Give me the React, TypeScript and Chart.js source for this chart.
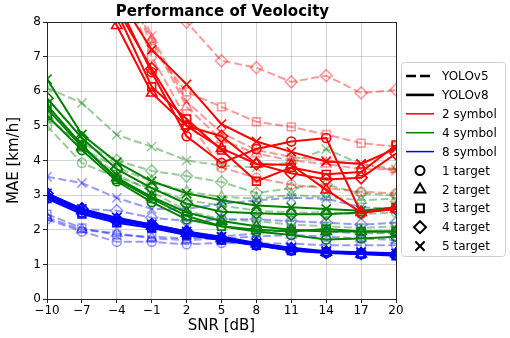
import React, { useEffect, useRef } from 'react';
import { Chart, registerables } from 'chart.js';
import { drawPoint } from 'chart.js/helpers';

Chart.register(...registerables);

const SNR = [-10, -7, -4, -1, 2, 5, 8, 11, 14, 17, 20];
const MODELS = ['YOLOv5', 'YOLOv8'];
const SYMBOLS = ['2 symbol', '4 symbol', '8 symbol'];
const TARGETS = ['1 target', '2 target', '3 target', '4 target', '5 target'];
const TITLE = 'Performance of Veolocity';
const X_LABEL = 'SNR [dB]';
const Y_LABEL = 'MAE [km/h]';

// 2 symbol, YOLOv8
const red_v8_t1 = [14, 11, 8.6, 6.55, 4.7, 3.93, 4.33, 4.55, 4.65, 2.48, 2.65];
const red_v8_t2 = [13, 10, 7.9, 5.95, 5.0, 4.35, 3.9, 3.87, 3.15, 2.5, 2.6];
const red_v8_t3 = [13, 10.5, 8.3, 6.13, 5.2, 4.3, 3.4, 3.8, 3.6, 3.67, 4.45];
const red_v8_t4 = [13.5, 10.5, 8.4, 6.65, 5.0, 4.7, 3.9, 3.63, 3.45, 3.5, 4.2];
const red_v8_t5 = [14, 11, 8.8, 7.2, 6.2, 5.05, 4.55, 4.25, 3.97, 3.9, 4.35];
// 2 symbol, YOLOv5
const red_v5_t1 = [15, 12, 9.5, 7.0, 5.2, 3.8, 3.5, 3.3, 3.2, 3.1, 3.05];
const red_v5_t2 = [15, 12, 9.5, 7.5, 5.55, 4.6, 4.2, 4.0, 3.9, 3.75, 3.75];
const red_v5_t3 = [16, 13, 10, 7.25, 5.98, 5.55, 5.12, 4.97, 4.75, 4.5, 4.4];
const red_v5_t4 = [20, 16, 12, 9.8, 8.0, 6.88, 6.68, 6.27, 6.45, 5.95, 6.04];
const red_v5_t5 = [16, 13, 10, 7.6, 5.7, 4.8, 4.3, 4.1, 4.0, 3.9, 3.7];
// 4 symbol, YOLOv8
const green_v8_t1 = [5.3, 4.3, 3.4, 2.8, 2.3, 2.1, 1.95, 1.85, 1.72, 1.75, 1.8];
const green_v8_t2 = [5.5, 4.4, 3.5, 2.95, 2.5, 2.25, 2.1, 2.0, 1.95, 1.95, 1.95];
const green_v8_t3 = [5.6, 4.45, 3.45, 2.9, 2.4, 2.1, 2.0, 1.95, 2.02, 1.95, 1.95];
const green_v8_t4 = [5.8, 4.65, 3.75, 3.2, 2.75, 2.52, 2.48, 2.45, 2.45, 2.5, 2.6];
const green_v8_t5 = [6.35, 4.75, 3.95, 3.4, 3.05, 2.85, 2.7, 2.65, 2.6, 2.55, 2.65];
// 4 symbol, YOLOv5
const green_v5_t1 = [5.0, 3.93, 3.5, 3.2, 2.85, 2.7, 2.55, 2.5, 2.5, 2.45, 2.5];
const green_v5_t2 = [5.3, 4.35, 3.8, 3.4, 3.1, 2.95, 2.9, 3.0, 2.95, 2.85, 2.9];
const green_v5_t3 = [5.5, 4.4, 3.6, 3.1, 2.55, 2.3, 2.25, 2.15, 2.1, 2.05, 2.1];
const green_v5_t4 = [5.2, 4.5, 4.0, 3.7, 3.55, 3.38, 3.06, 3.2, 3.3, 3.05, 3.0];
const green_v5_t5 = [6.1, 5.66, 4.74, 4.4, 4.0, 3.85, 3.8, 3.95, 4.33, 3.9, 3.75];
// 8 symbol, YOLOv8
const blue_v8_t1 = [2.95, 2.5, 2.25, 2.1, 1.9, 1.72, 1.55, 1.4, 1.33, 1.3, 1.28];
const blue_v8_t2 = [3.0, 2.55, 2.3, 2.1, 1.9, 1.75, 1.6, 1.45, 1.35, 1.3, 1.3];
const blue_v8_t3 = [2.9, 2.45, 2.2, 2.05, 1.85, 1.7, 1.55, 1.4, 1.35, 1.3, 1.25];
const blue_v8_t4 = [3.05, 2.6, 2.3, 2.15, 1.95, 1.75, 1.6, 1.45, 1.35, 1.32, 1.3];
const blue_v8_t5 = [3.05, 2.6, 2.35, 2.15, 1.95, 1.8, 1.62, 1.48, 1.38, 1.35, 1.32];
// 8 symbol, YOLOv5
const blue_v5_t1 = [2.3, 1.95, 1.65, 1.65, 1.58, 1.62, 1.6, 1.6, 1.55, 1.55, 1.55];
const blue_v5_t2 = [2.35, 2.0, 1.9, 1.75, 1.7, 1.75, 1.8, 1.85, 1.8, 1.75, 1.7];
const blue_v5_t3 = [2.45, 2.05, 1.85, 1.8, 1.75, 1.8, 1.9, 2.0, 1.95, 1.9, 1.9];
const blue_v5_t4 = [2.9, 2.6, 2.55, 2.35, 2.25, 2.3, 2.3, 2.25, 2.2, 2.15, 2.2];
const blue_v5_t5 = [3.53, 3.35, 2.92, 2.6, 2.6, 2.75, 2.85, 2.92, 2.9, 2.65, 2.6];

const COLORS = ['255,0,0', '0,128,0', '0,0,255'];
const POINT_STYLES = ['circle', 'triangle', 'rect', 'rectRot', 'crossRot'];
const POINT_RADII = [4.5, 6, 5.5, 6, 6.5];
const DASH = [8, 3.5];

const SERIES_V8 = [
  [red_v8_t1, red_v8_t2, red_v8_t3, red_v8_t4, red_v8_t5],
  [green_v8_t1, green_v8_t2, green_v8_t3, green_v8_t4, green_v8_t5],
  [blue_v8_t1, blue_v8_t2, blue_v8_t3, blue_v8_t4, blue_v8_t5],
];
const SERIES_V5 = [
  [red_v5_t1, red_v5_t2, red_v5_t3, red_v5_t4, red_v5_t5],
  [green_v5_t1, green_v5_t2, green_v5_t3, green_v5_t4, green_v5_t5],
  [blue_v5_t1, blue_v5_t2, blue_v5_t3, blue_v5_t4, blue_v5_t5],
];

const FONT = '"DejaVu Sans", sans-serif';

function buildDatasets() {
  const ds: any[] = [];
  const add = (vals: number[], s: number, t: number, v5: boolean) => {
    const c = v5 ? `rgba(${COLORS[s]},0.4)` : `rgb(${COLORS[s]})`;
    ds.push({
      label: `${v5 ? MODELS[0] : MODELS[1]} ${SYMBOLS[s]} ${TARGETS[t]}`,
      data: SNR.map((x, i) => ({ x, y: vals[i] })),
      borderColor: c,
      borderWidth: 2,
      borderDash: v5 ? DASH : [],
      pointStyle: POINT_STYLES[t],
      pointRadius: POINT_RADII[t],
      pointBorderColor: c,
      pointBorderWidth: 1.6,
      pointBackgroundColor: 'rgba(0,0,0,0)',
      tension: 0,
      fill: false,
    });
  };
  // solid lines on top (lower index drawn last)
  for (const s of [0, 2, 1]) SERIES_V8[s].forEach((vals, t) => add(vals, s, t, false));
  for (const s of [0, 1, 2]) SERIES_V5[s].forEach((vals, t) => add(vals, s, t, true));
  return ds;
}

const decorPlugin = {
  id: 'decor',
  afterDraw(chart: any) {
    const ctx = chart.ctx;
    const a = chart.chartArea;
    ctx.save();
    // frame
    ctx.strokeStyle = '#262626';
    ctx.lineWidth = 1;
    ctx.setLineDash([]);
    ctx.strokeRect(a.left + 0.5, a.top + 0.5, a.right - a.left, a.bottom - a.top);
    // title
    ctx.fillStyle = '#000';
    ctx.font = `bold 15px ${FONT}`;
    ctx.textAlign = 'center';
    ctx.textBaseline = 'middle';
    ctx.fillText(TITLE, (a.left + a.right) / 2 + 1, 12);
    // legend
    const bx = 401.5, by = 62.5, bw = 104, bh = 194;
    ctx.beginPath();
    ctx.roundRect(bx, by, bw, bh, 3);
    ctx.fillStyle = 'rgba(255,255,255,0.85)';
    ctx.fill();
    ctx.strokeStyle = '#d0d0d0';
    ctx.stroke();
    const items: any[] = [
      { label: MODELS[0], kind: 'line', color: '#000', dash: [10, 4], width: 2.6 },
      { label: MODELS[1], kind: 'line', color: '#000', dash: [], width: 2.6 },
      ...SYMBOLS.map((l, i) => ({ label: l, kind: 'line', color: `rgb(${COLORS[i]})`, dash: [], width: 1.5 })),
      ...TARGETS.map((l, i) => ({ label: l, kind: 'point', style: POINT_STYLES[i], radius: POINT_RADII[i] })),
    ];
    ctx.font = `12px ${FONT}`;
    ctx.textAlign = 'left';
    ctx.textBaseline = 'middle';
    items.forEach((it, i) => {
      const y = 76 + i * 18.9;
      if (it.kind === 'line') {
        ctx.beginPath();
        ctx.setLineDash(it.dash);
        ctx.strokeStyle = it.color;
        ctx.lineWidth = it.width;
        ctx.moveTo(406, y);
        ctx.lineTo(434, y);
        ctx.stroke();
        ctx.setLineDash([]);
      } else {
        ctx.strokeStyle = '#000';
        ctx.fillStyle = 'rgba(255,255,255,0)';
        ctx.lineWidth = 2;
        drawPoint(ctx, { pointStyle: it.style, radius: it.radius, borderWidth: 2, rotation: 0 }, 420, y);
      }
      ctx.fillStyle = '#000';
      ctx.fillText(it.label, 442, y + 1);
    });
    ctx.restore();
  },
};

export default function App() {
  const ref = useRef<HTMLCanvasElement>(null);
  useEffect(() => {
    document.body.style.margin = '0';
    Chart.defaults.font.family = FONT;
    const chart = new Chart(ref.current as HTMLCanvasElement, {
      type: 'line',
      data: { datasets: buildDatasets() },
      options: {
        animation: false,
        responsive: false,
        devicePixelRatio: 1,
        layout: { padding: { top: 22, right: 114, left: 0, bottom: 0 } },
        plugins: { legend: { display: false }, tooltip: { enabled: false }, title: { display: false } },
        scales: {
          x: {
            type: 'linear',
            min: -10,
            max: 20,
            afterFit: (s: any) => { s.height = 39; },
            grid: { color: 'rgba(0,0,0,0.17)', tickColor: '#262626', tickLength: 4, lineWidth: 1 },
            border: { display: false },
            ticks: {
              stepSize: 3,
              autoSkip: false,
              maxRotation: 0,
              padding: 1,
              color: '#000',
              font: { size: 12, family: FONT },
              callback: (v: any) => String(v).replace('-', '\u2212'),
            },
            title: { display: true, text: X_LABEL, color: '#000', font: { size: 15, family: FONT }, padding: { top: 0, bottom: 3 } },
          },
          y: {
            type: 'linear',
            min: 0,
            max: 8,
            afterFit: (s: any) => { s.width = 47; },
            grid: { color: 'rgba(0,0,0,0.17)', tickColor: '#262626', tickLength: 4, lineWidth: 1 },
            border: { display: false },
            ticks: {
              stepSize: 1,
              padding: 2,
              color: '#000',
              font: { size: 12, family: FONT },
            },
            title: { display: true, text: Y_LABEL, color: '#000', font: { size: 15, family: FONT }, padding: { top: 5, bottom: 0 } },
          },
        },
      } as any,
      plugins: [decorPlugin],
    });
    return () => chart.destroy();
  }, []);
  return (
    <div style={{ width: 510, height: 338 }}>
      <canvas ref={ref} width={510} height={338} />
    </div>
  );
}
